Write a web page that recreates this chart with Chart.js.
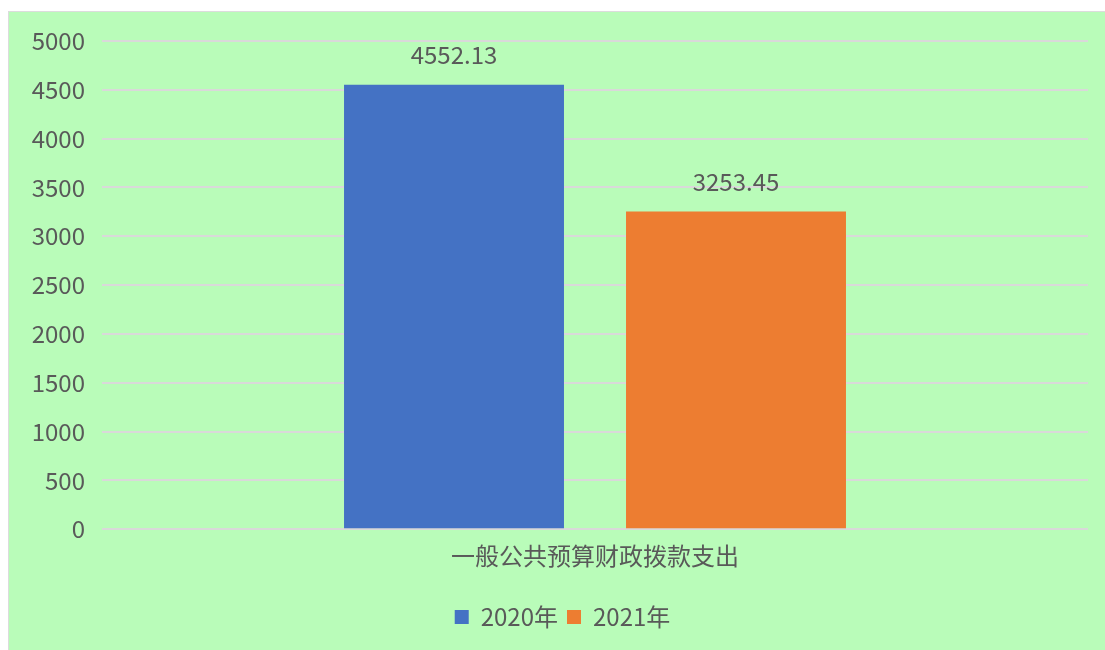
<!DOCTYPE html>
<html>
<head>
<meta charset="utf-8">
<script src="https://cdn.jsdelivr.net/npm/chart.js@4"></script>
<style>
  body { margin: 0; background: #fff; }
  #box {
    position: absolute; left: 8px; top: 11px;
    width: 1097px; height: 639px;
    background: #b9fcb9;
    border-top: 1px solid #dcdcdc; border-left: 1px solid #dcdcdc;
  }
</style>
</head>
<body>
<div id="box"><canvas id="canvas"></canvas></div>
<script>
var categories = ['一般公共预算财政拨款支出'];
var seriesNames = ['2020年', '2021年'];
var values2020 = [4552.13];
var values2021 = [3253.45];
var yTicks = [0, 500, 1000, 1500, 2000, 2500, 3000, 3500, 4000, 4500, 5000];

var font = '"Microsoft YaHei", "Noto Sans CJK SC", sans-serif';
var textColor = '#595959';

// draw the numbers above each bar
var barLabels = {
    id: 'barLabels',
    afterLayout: function(chart) {
        // nudge legend to the right a bit
        chart.legend.left += 14;
        chart.legend.right += 14;
    },
    afterDatasetsDraw: function(chart) {
        var ctx = chart.ctx;
        ctx.save();
        ctx.font = '24px ' + font;
        ctx.fillStyle = textColor;
        ctx.textAlign = 'center';
        ctx.textBaseline = 'middle';
        chart.data.datasets.forEach(function(ds, i) {
            chart.getDatasetMeta(i).data.forEach(function(bar, j) {
                ctx.fillText(ds.data[j].toFixed(2), bar.x, bar.y - 30);
            });
        });
        ctx.restore();
    }
};

var ctx = document.getElementById('canvas').getContext('2d');
var myChart = new Chart(ctx, {
    type: 'bar',
    data: {
        labels: categories,
        datasets: [{
            label: seriesNames[0],
            data: values2020,
            backgroundColor: '#4472c4'
        }, {
            label: seriesNames[1],
            data: values2021,
            backgroundColor: '#ed7d31'
        }]
    },
    options: {
        responsive: true,
        maintainAspectRatio: false,
        animation: false,
        layout: { padding: { top: 28, right: 18, bottom: 12, left: 0 } },
        datasets: {
            bar: { categoryPercentage: 0.572, barPercentage: 0.78 }
        },
        scales: {
            x: {
                afterFit: function(scale) { scale.height += 22; },
                grid: { display: false },
                border: { display: false },
                ticks: { color: textColor, font: { family: font, size: 24 }, padding: 4 }
            },
            y: {
                min: 0,
                max: 5000,
                afterBuildTicks: function(scale) {
                    scale.ticks = yTicks.map(function(v) { return { value: v }; });
                },
                afterFit: function(scale) { scale.width = 93; },
                grid: { color: '#d9d9d9', lineWidth: 2, drawTicks: false },
                border: { display: false },
                ticks: {
                    color: textColor,
                    font: { family: font, size: 24, lineHeight: 1 },
                    padding: 17,
                    callback: function(v) { return String(v); }
                }
            }
        },
        plugins: {
            legend: {
                position: 'bottom',
                labels: {
                    color: textColor,
                    font: { family: font, size: 24 },
                    boxWidth: 14,
                    boxHeight: 14,
                    padding: 9
                }
            },
            tooltip: { enabled: false }
        }
    },
    plugins: [barLabels]
});
</script>
</body>
</html>
